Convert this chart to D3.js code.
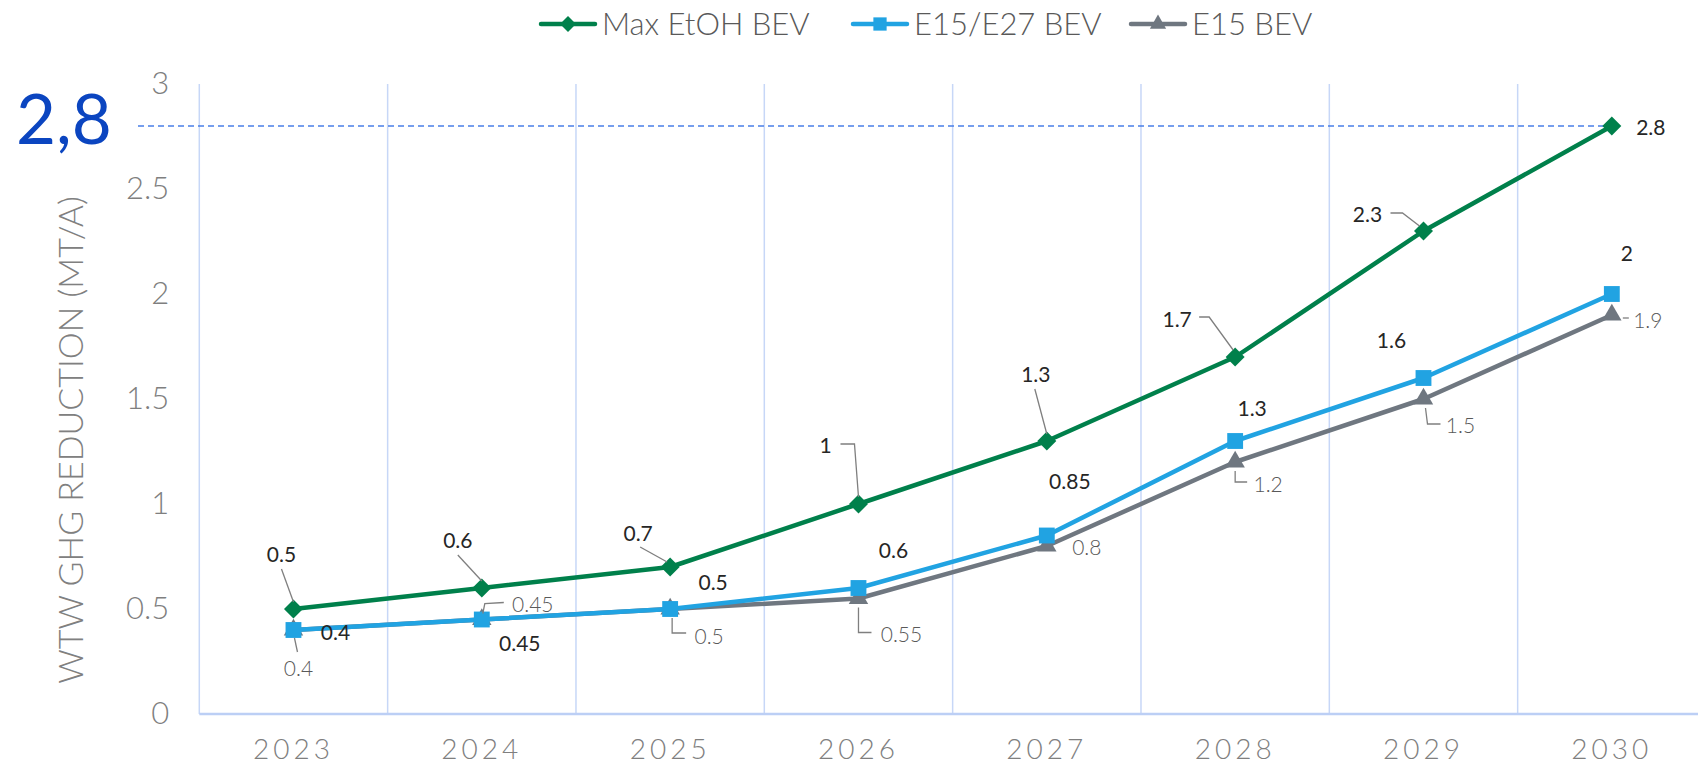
<!DOCTYPE html>
<html>
<head>
<meta charset="utf-8">
<script src="https://cdn.jsdelivr.net/npm/d3@7.9.0/dist/d3.min.js"></script>
<style>
  html, body { margin: 0; padding: 0; background: #fff; }
  svg { display: block; font-family: Lato, "Open Sans", sans-serif; }
</style>
</head>
<body>
<svg id="chart" width="1698" height="764"></svg>
<script>
// chart data
const years = ["2023", "2024", "2025", "2026", "2027", "2028", "2029", "2030"];
const maxEtoh = [0.5, 0.6, 0.7, 1, 1.3, 1.7, 2.3, 2.8];
const e15e27 = [0.4, 0.45, 0.5, 0.6, 0.85, 1.3, 1.6, 2];
const e15 = [0.4, 0.45, 0.5, 0.55, 0.8, 1.2, 1.5, 1.9];
const yTicks = [0, 0.5, 1, 1.5, 2, 2.5, 3];
const highlight = 2.8;

// label placement (pixel offsets from each point) and leader lines
const greenLabels = [
  { dx: -12, dy: -56, lead: [[-12, -40], [0, -7]] },
  { dx: -24, dy: -49, lead: [[-24, -33], [0, -7]] },
  { dx: -32, dy: -35, lead: [[-30, -20], [-3, -5]] },
  { dx: -33, dy: -60, lead: [[-18, -60], [-4, -60], [0, -7]] },
  { dx: -11, dy: -68, lead: [[-12, -52], [0, -7]] },
  { dx: -58, dy: -39, lead: [[-36, -40], [-26, -40], [-2, -7]] },
  { dx: -56, dy: -18, lead: [[-33, -18], [-21, -18], [-4, -5]] },
  { dx: 39, dy: 0, lead: null }
];
const blueLabels = [
  { dx: 42, dy: 1 }, { dx: 38, dy: 23 }, { dx: 43, dy: -28 }, { dx: 35, dy: -39 },
  { dx: 23, dy: -55 }, { dx: 17, dy: -34 }, { dx: -32, dy: -39 }, { dx: 15, dy: -42 }
];
const grayLabels = [
  { dx: 5, dy: 37, lead: [[1, 8], [4, 22]] },
  { dx: 51, dy: -16, lead: [[1, -6], [3, -16], [22, -17]] },
  { dx: 39, dy: 26, lead: [[2, 9], [2, 24], [16, 24]] },
  { dx: 43, dy: 35, lead: [[0, 9], [0, 34], [13, 34]] },
  { dx: 40, dy: 0, lead: null },
  { dx: 33, dy: 21, lead: [[0, 9], [0, 20], [12, 20]] },
  { dx: 37, dy: 25, lead: [[2, 9], [4, 25], [17, 25]] },
  { dx: 36, dy: 4, lead: [[11, 3], [17, 3]] }
];

const series = [
  { name: "Max EtOH BEV", values: maxEtoh, color: "#00804b", symbol: d3.symbolDiamond2, size: 230, labels: greenLabels, textColor: "#262626", weight: 400 },
  { name: "E15/E27 BEV", values: e15e27, color: "#21a3e2", symbol: d3.symbolSquare2, size: 320, labels: blueLabels, textColor: "#262626", weight: 400 },
  { name: "E15 BEV", values: e15, color: "#6f7780", symbol: d3.symbolTriangle2, size: 270, labels: grayLabels, textColor: "#595959", weight: 300 }
];

const svg = d3.select("#chart");
const plotLeft = 199.3, plotRight = 1706, plotTop = 84, plotBottom = 714;

const x = d3.scaleBand().domain(years).range([plotLeft, plotRight]);
const y = d3.scaleLinear().domain([0, 3]).range([plotBottom, plotTop]);
const cx = (i) => x(years[i]) + x.bandwidth() / 2;

// vertical gridlines at band edges
const edges = years.map(d => x(d)).concat([plotRight]);
svg.append("g").selectAll("line").data(edges).join("line")
  .attr("x1", d => d).attr("x2", d => d)
  .attr("y1", plotTop).attr("y2", plotBottom)
  .attr("stroke", "#c7d7f7").attr("stroke-width", 1.5);

// bottom axis line
svg.append("line")
  .attr("x1", plotLeft).attr("x2", plotRight).attr("y1", plotBottom).attr("y2", plotBottom)
  .attr("stroke", "#bccff5").attr("stroke-width", 2.5);

// y axis
const yAxis = d3.axisLeft(y).tickValues(yTicks).tickSize(0).tickPadding(0)
  .tickFormat(d3.format(""));
svg.append("g")
  .attr("transform", `translate(${plotLeft - 30},0)`)
  .call(yAxis)
  .call(g => g.select(".domain").remove())
  .selectAll("text")
  .attr("font-family", "Lato")
  .attr("font-weight", 300)
  .attr("font-size", 31)
  .attr("fill", "#7f7f7f");

// x axis
const xAxis = d3.axisBottom(x).tickSize(0).tickPadding(0);
svg.append("g")
  .attr("transform", `translate(0,${plotBottom})`)
  .call(xAxis)
  .call(g => g.select(".domain").remove())
  .selectAll("text")
  .attr("dy", null)
  .attr("y", 45)
  .attr("font-family", "Lato")
  .attr("font-weight", 300)
  .attr("font-size", 28)
  .attr("letter-spacing", 4)
  .attr("fill", "#7f7f7f");

// y axis title
svg.append("text")
  .attr("transform", `translate(83,440) rotate(-90)`)
  .attr("text-anchor", "middle")
  .attr("font-weight", 300)
  .attr("font-size", 34)
  .attr("fill", "#808080")
  .text("WTW GHG REDUCTION (MT/A)");

// highlight dashed line and big number
svg.append("line")
  .attr("x1", 138).attr("x2", cx(years.length - 1))
  .attr("y1", y(highlight)).attr("y2", y(highlight))
  .attr("stroke", "#4a7fe8").attr("stroke-width", 1.5)
  .attr("stroke-dasharray", "6,4");
svg.append("text")
  .attr("x", 16).attr("y", 144)
  .attr("font-size", 69)
  .attr("font-weight", 400)
  .attr("fill", "#0b45c0")
  .text(String(highlight).replace(".", ","));

// lines and markers
const line = d3.line().x((d, i) => cx(i)).y(d => y(d));
series.slice().reverse().forEach(s => {
  svg.append("path")
    .attr("d", line(s.values))
    .attr("fill", "none")
    .attr("stroke", s.color)
    .attr("stroke-width", 4.5)
    .attr("stroke-linejoin", "round");
  svg.append("g").selectAll("path").data(s.values).join("path")
    .attr("transform", (d, i) => `translate(${cx(i)},${y(d)})`)
    .attr("d", d3.symbol(s.symbol, s.size))
    .attr("fill", s.color);
});

// leader lines and data labels
series.forEach(s => {
  s.values.forEach((v, i) => {
    const px = cx(i), py = y(v), lab = s.labels[i];
    if (lab.lead) {
      svg.append("path")
        .attr("d", d3.line()(lab.lead.map(p => [px + p[0], py + p[1]])))
        .attr("fill", "none")
        .attr("stroke", "#7f7f7f")
        .attr("stroke-width", 1.3);
    }
    svg.append("text")
      .attr("x", px + lab.dx).attr("y", py + lab.dy)
      .attr("text-anchor", "middle")
      .attr("dominant-baseline", "central")
      .attr("font-size", 21)
      .attr("font-weight", s.weight)
      .attr("fill", s.textColor)
      .text(v);
  });
});

// legend
const legendX = [541, 853, 1131];
const legend = svg.append("g");
series.forEach((s, i) => {
  const g = legend.append("g").attr("transform", `translate(${legendX[i]},24)`);
  g.append("line").attr("x1", 0).attr("x2", 54)
    .attr("stroke", s.color).attr("stroke-width", 4.5).attr("stroke-linecap", "round");
  g.append("path").attr("transform", "translate(27,0)")
    .attr("d", d3.symbol(s.symbol, s.size * 0.7)).attr("fill", s.color);
  g.append("text").attr("x", 61).attr("y", 11)
    .attr("font-size", 31).attr("font-weight", 300).attr("fill", "#595959")
    .text(s.name);
});
</script>
</body>
</html>
